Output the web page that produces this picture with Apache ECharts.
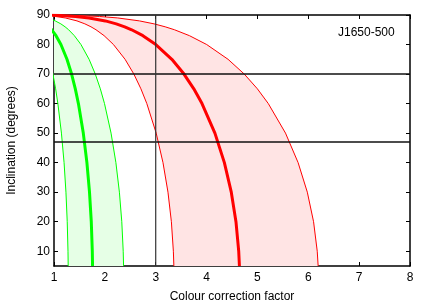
<!DOCTYPE html>
<html><head><meta charset="utf-8">
<script src="https://cdn.jsdelivr.net/npm/echarts@6/dist/echarts.min.js"></script>
<style>html,body{margin:0;padding:0;background:#fff}#c{width:431px;height:302px}</style>
</head><body><div id="c"></div>
<script>
// Inclination (degrees) sampled along each curve
const inclination = [5,10,20,30,40,50,60,65,70,75,80,83,85,86,87,88,89,89.5,89.8,89.9];
// Colour correction factor at those inclinations
const greenLow   = [1.279,1.275,1.260,1.235,1.198,1.146,1.076,1.032,0.979,0.913,0.826,0.756,0.695,0.658,0.612,0.553,0.465,0.391,0.311,0.262];
const greenMid   = [1.758,1.753,1.733,1.698,1.647,1.576,1.480,1.419,1.346,1.255,1.136,1.040,0.956,0.905,0.842,0.761,0.640,0.538,0.428,0.360];
const greenHigh  = [2.368,2.361,2.333,2.286,2.217,2.122,1.993,1.911,1.812,1.690,1.530,1.400,1.288,1.218,1.134,1.024,0.861,0.724,0.576,0.484];
const redLow     = [3.357,3.347,3.308,3.241,3.143,3.009,2.825,2.709,2.570,2.397,2.169,1.985,1.826,1.727,1.607,1.452,1.221,1.027,0.817,0.687];
const redMid     = [4.646,4.632,4.578,4.486,4.350,4.164,3.910,3.749,3.556,3.317,3.002,2.748,2.527,2.390,2.224,2.010,1.690,1.421,1.130,0.950];
const redHigh    = [6.194,6.176,6.104,5.981,5.800,5.552,5.214,4.999,4.741,4.422,4.002,3.663,3.369,3.186,2.966,2.680,2.254,1.895,1.507,1.267];
const hLines = [70, 47];
const vLines = [3];
const xTicks = [1,2,3,4,5,6,7,8];
const yTicks = [10,20,30,40,50,60,70,80,90];
const label = 'J1650-500';

const zip = xs => xs.map((x,i)=>[x, inclination[i]]);
const band = (lo, hi) => zip(hi).slice().reverse().concat(zip(lo));

const font = 'Liberation Sans, Arial, sans-serif';
const FS = 12;
const axisCommon = {
  axisLine:{show:true,onZero:false,lineStyle:{color:'#000',width:1.5}},
  axisTick:{show:true,inside:true,length:4,lineStyle:{color:'#000',width:1}},
  splitLine:{show:false},
};
function polySeries(pts, fill){
  return {type:'custom', coordinateSystem:'cartesian2d', clip:true, z:1, silent:true,
    data: pts, encode:{x:0,y:1},
    renderItem:(params, api)=>{
      if(params.dataIndex!==0) return null;
      return {type:'polygon', shape:{points: pts.map(p=>api.coord(p))}, style:{fill:fill}};
    }};
}
function lineSeries(data, color, width){
  return {type:'line', data:data, showSymbol:false, symbol:'none', clip:true, z:3,
    lineStyle:{color:color,width:width}, silent:true, animation:false};
}
const series = [
  polySeries(band(greenLow, greenHigh), '#e6ffe6'),
  polySeries(band(redLow, redHigh), '#ffe4e4'),
  lineSeries(zip(greenLow), '#00ff00', 1),
  lineSeries(zip(greenHigh), '#00ff00', 1),
  lineSeries(zip(greenMid), '#00ff00', 3),
  lineSeries(zip(redLow), '#ff0000', 1),
  lineSeries(zip(redHigh), '#ff0000', 1),
  lineSeries(zip(redMid), '#ff0000', 3),
];
hLines.forEach(v=>series.push(lineSeries([[1,v],[8,v]], '#111', 1.5)));
vLines.forEach(v=>series.push(lineSeries([[v,5],[v,90]], '#333', 1.2)));

const chart = echarts.init(document.getElementById('c'), null, {renderer:'canvas'});
chart.setOption({
  animation:false,
  backgroundColor:'#fff',
  title:{text:label, left:333, top:22, textStyle:{fontFamily:font,fontSize:FS,fontWeight:'normal',color:'#000'}},
  grid:{left:54,right:21,top:15,bottom:36,containLabel:false,outerBoundsMode:'none'},
  xAxis:[
    Object.assign({type:'value',min:1,max:8,interval:1,position:'bottom',
      name:'Colour correction factor',nameLocation:'middle',nameGap:25,
      nameTextStyle:{fontFamily:font,fontSize:FS,color:'#000'},
      axisLabel:{fontFamily:font,fontSize:FS,color:'#000',margin:6}}, axisCommon),
    Object.assign({type:'value',min:1,max:8,interval:1,position:'top',axisLabel:{show:false}}, axisCommon)
  ],
  yAxis:[
    Object.assign({type:'value',min:5,max:90,position:'left',
      name:'Inclination (degrees)',nameLocation:'middle',nameGap:36,
      nameTextStyle:{fontFamily:font,fontSize:FS,color:'#000'},
      axisLabel:{fontFamily:font,fontSize:FS,color:'#000',margin:4,customValues:yTicks},
      }, axisCommon, {axisTick:{show:true,inside:true,length:4,customValues:yTicks,lineStyle:{color:'#000',width:1}}}),
    Object.assign({type:'value',min:5,max:90,position:'right',axisLabel:{show:false}}, axisCommon,
      {axisTick:{show:true,inside:true,length:4,customValues:yTicks,lineStyle:{color:'#000',width:1}}})
  ],
  series: series
});
</script></body></html>
